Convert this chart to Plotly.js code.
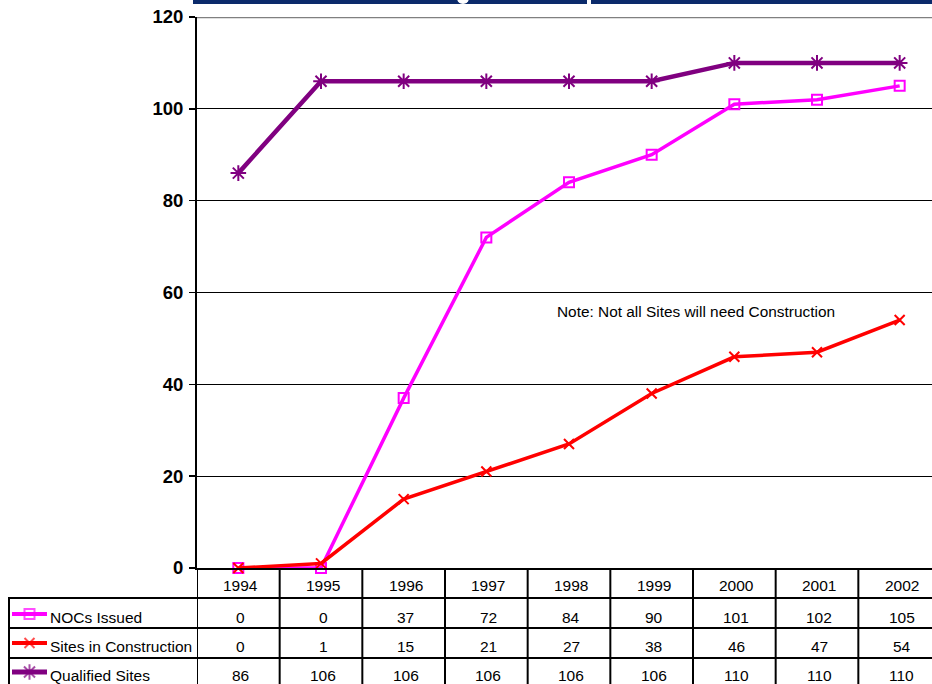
<!DOCTYPE html>
<html>
<head>
<meta charset="utf-8">
<script src="https://cdn.plot.ly/plotly-3.0.1.min.js"></script>
<style>html,body{margin:0;padding:0;background:#fff;overflow:hidden}#chart{width:932px;height:684px}</style>
</head>
<body>
<div id="chart"></div>
<script>
// ---- data ----
const years = ['1994','1995','1996','1997','1998','1999','2000','2001','2002'];
const nocsIssued = [0, 0, 37, 72, 84, 90, 101, 102, 105];
const sitesInConstruction = [0, 1, 15, 21, 27, 38, 46, 47, 54];
const qualifiedSites = [86, 106, 106, 106, 106, 106, 110, 110, 110];
const seriesNames = ['NOCs Issued', 'Sites in Construction', 'Qualified Sites'];
const yTicks = [0, 20, 40, 60, 80, 100, 120];
const noteText = 'Note: Not all Sites will need Construction';

// ---- layout helpers (pixel -> paper) ----
const W = 932, H = 684;
const px = v => v / W;
const py = v => 1 - v / H;
const FONT = 'Liberation Sans, Arial, sans-serif';

const seriesValues = [nocsIssued, sitesInConstruction, qualifiedSites];
const styles = [
  {color: '#FF00FF', symbol: 'square-open', size: 10, lw: 3.5, mlw: 2},
  {color: '#FF0000', symbol: 'x-thin-open', size: 10, lw: 3.5, mlw: 2},
  {color: '#800080', symbol: 'asterisk-open', size: 13, lw: 4.5, mlw: 2}
];
const rowCenters = [617, 646, 675];
const headerCenter = 585;

const traces = seriesValues.map((vals, s) => ({
  type: 'scatter', mode: 'lines+markers', x: years, y: vals, name: seriesNames[s],
  xaxis: 'x', yaxis: 'y', cliponaxis: false, showlegend: false,
  line: {color: styles[s].color, width: styles[s].lw},
  marker: {symbol: styles[s].symbol, size: styles[s].size, color: styles[s].color,
           line: {color: styles[s].color, width: styles[s].mlw}}
}));
// legend samples in the data table (pixel-space helper axes)
seriesNames.forEach((n, s) => {
  traces.push({
    type: 'scatter', mode: 'lines+markers', x: [12, 29.5, 47],
    y: [rowCenters[s] - 3, rowCenters[s] - 3, rowCenters[s] - 3],
    xaxis: 'x2', yaxis: 'y2', showlegend: false, hoverinfo: 'skip', cliponaxis: false,
    line: {color: styles[s].color, width: styles[s].lw + 0.5},
    marker: {symbol: styles[s].symbol, size: [0, styles[s].size, 0], color: styles[s].color,
             line: {color: styles[s].color, width: styles[s].mlw}}
  });
});

const shapes = [];
const annotations = [];
// banner at top
shapes.push({type: 'rect', xref: 'paper', yref: 'paper', x0: px(193), x1: 1, y0: py(4), y1: 1.01,
             fillcolor: '#0B2A6B', line: {width: 0}, layer: 'above'});
shapes.push({type: 'rect', xref: 'paper', yref: 'paper', x0: px(587), x1: px(591), y0: py(4), y1: 1.01,
             fillcolor: '#FFFFFF', line: {width: 0}, layer: 'above'});
shapes.push({type: 'circle', xref: 'paper', yref: 'paper', x0: px(457), x1: px(469), y0: py(4), y1: py(-8),
             fillcolor: '#FFFFFF', line: {width: 0}, layer: 'above'});
// top border (gray) at 120
shapes.push({type: 'line', xref: 'paper', yref: 'y', x0: px(197), x1: 1, y0: 120, y1: 120,
             line: {color: '#808080', width: 2.5}});
// table verticals
for (let i = 0; i < years.length; i++) {
  shapes.push({type: 'line', xref: 'x', yref: 'paper', x0: i - 0.5, x1: i - 0.5, y0: py(568), y1: py(700),
               line: {color: '#000', width: 2}});
}
shapes.push({type: 'line', xref: 'paper', yref: 'paper', x0: px(9), x1: px(9), y0: py(598), y1: py(700),
             line: {color: '#000', width: 2}});
[598, 628, 658].forEach(yy => shapes.push({type: 'line', xref: 'paper', yref: 'paper', x0: px(8), x1: 1,
             y0: py(yy), y1: py(yy), line: {color: '#000', width: 2}}));

// table text
years.forEach((yr, i) => annotations.push({text: yr, x: i, xref: 'x', y: py(headerCenter), yref: 'paper',
  showarrow: false, font: {family: FONT, size: 15.5, color: '#000'}, xanchor: 'center', yanchor: 'middle',
  xshift: 2}));
seriesValues.forEach((vals, s) => {
  annotations.push({text: seriesNames[s], x: px(48), xref: 'paper', y: py(rowCenters[s]), yref: 'paper',
    showarrow: false, font: {family: FONT, size: 15.5, color: '#000'}, xanchor: 'left', yanchor: 'middle'});
  vals.forEach((v, i) => annotations.push({text: String(v), x: i, xref: 'x', y: py(rowCenters[s]), yref: 'paper',
    showarrow: false, font: {family: FONT, size: 15.5, color: '#000'}, xanchor: 'center', yanchor: 'middle',
    xshift: 2}));
});
// note
annotations.push({text: noteText, x: 5.536, xref: 'x', y: 55.8, yref: 'y', showarrow: false,
  font: {family: FONT, size: 15.4, color: '#000'}, xanchor: 'center', yanchor: 'middle'});

const cellW = (941 - 197) / 9;
const layout = {
  width: W, height: H,
  margin: {l: 0, r: 0, t: 0, b: 0, pad: 0},
  paper_bgcolor: '#FFFFFF', plot_bgcolor: 'rgba(0,0,0,0)',
  showlegend: false,
  font: {family: FONT, color: '#000'},
  xaxis: {type: 'category', domain: [px(197), 1], range: [-0.5, -0.5 + (W - 197) / cellW],
          showticklabels: false, ticks: '', showgrid: false, zeroline: false,
          showline: true, linecolor: '#000', linewidth: 2, anchor: 'y', fixedrange: true},
  yaxis: {domain: [py(568), py(17)], range: [0, 120], tickvals: yTicks, ticktext: yTicks.map(String),
          ticks: 'outside', ticklen: 6, tickwidth: 1.5, tickcolor: '#000',
          showline: true, linecolor: '#000', linewidth: 2,
          showgrid: true, gridcolor: '#000', gridwidth: 1, zeroline: false,
          tickfont: {family: FONT, size: 18.5, color: '#000', weight: 'bold'},
          ticklabelstandoff: 2, anchor: 'x', fixedrange: true},
  xaxis2: {domain: [0, 1], range: [0, W], visible: false, anchor: 'y2', fixedrange: true},
  yaxis2: {domain: [0, 1], range: [H, 0], visible: false, anchor: 'x2', fixedrange: true},
  shapes: shapes,
  annotations: annotations
};

Plotly.newPlot('chart', traces, layout, {staticPlot: true, displayModeBar: false});
</script>
</body>
</html>
